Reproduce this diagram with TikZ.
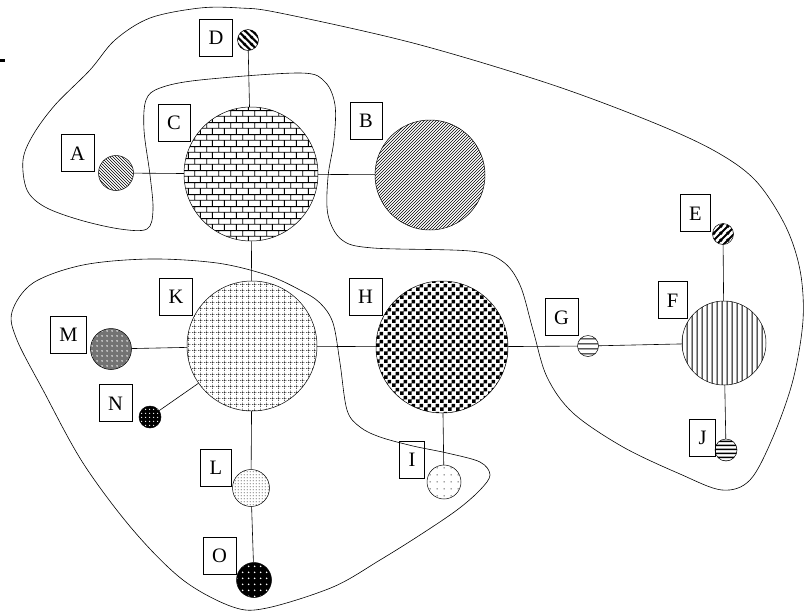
\documentclass[tikz,border=0pt]{standalone}
\usepackage{fontspec}
\setmainfont{Liberation Serif}
\usetikzlibrary{patterns}

\pgfdeclarepatternformonly{thickNW}{\pgfqpoint{0pt}{0pt}}{\pgfqpoint{7pt}{7pt}}{\pgfqpoint{7pt}{7pt}}{%
  \pgfsetlinewidth{2.2pt}%
  \pgfpathmoveto{\pgfqpoint{-1pt}{8pt}}\pgfpathlineto{\pgfqpoint{8pt}{-1pt}}%
  \pgfpathmoveto{\pgfqpoint{-1pt}{1pt}}\pgfpathlineto{\pgfqpoint{1pt}{-1pt}}%
  \pgfpathmoveto{\pgfqpoint{6pt}{8pt}}\pgfpathlineto{\pgfqpoint{8pt}{6pt}}%
  \pgfusepath{stroke}}
\pgfdeclarepatternformonly{thickNE}{\pgfqpoint{0pt}{0pt}}{\pgfqpoint{7pt}{7pt}}{\pgfqpoint{7pt}{7pt}}{%
  \pgfsetlinewidth{2.2pt}%
  \pgfpathmoveto{\pgfqpoint{-1pt}{-1pt}}\pgfpathlineto{\pgfqpoint{8pt}{8pt}}%
  \pgfpathmoveto{\pgfqpoint{6pt}{-1pt}}\pgfpathlineto{\pgfqpoint{8pt}{1pt}}%
  \pgfpathmoveto{\pgfqpoint{-1pt}{6pt}}\pgfpathlineto{\pgfqpoint{1pt}{8pt}}%
  \pgfusepath{stroke}}
\pgfdeclarepatternformonly{vlinesF}{\pgfqpoint{0pt}{0pt}}{\pgfqpoint{5pt}{5pt}}{\pgfqpoint{5pt}{5pt}}{%
  \pgfsetlinewidth{1pt}%
  \pgfpathmoveto{\pgfqpoint{2.5pt}{-1pt}}\pgfpathlineto{\pgfqpoint{2.5pt}{6pt}}%
  \pgfusepath{stroke}}
\pgfdeclarepatternformonly{hlinesG}{\pgfqpoint{0pt}{0pt}}{\pgfqpoint{5pt}{5pt}}{\pgfqpoint{5pt}{5pt}}{%
  \pgfsetlinewidth{1.3pt}%
  \pgfpathmoveto{\pgfqpoint{-1pt}{2.5pt}}\pgfpathlineto{\pgfqpoint{6pt}{2.5pt}}%
  \pgfusepath{stroke}}
\pgfdeclarepatternformonly{hlinesJ}{\pgfqpoint{0pt}{0pt}}{\pgfqpoint{4pt}{4pt}}{\pgfqpoint{4pt}{4pt}}{%
  \pgfsetlinewidth{1.8pt}%
  \pgfpathmoveto{\pgfqpoint{-1pt}{2pt}}\pgfpathlineto{\pgfqpoint{5pt}{2pt}}%
  \pgfusepath{stroke}}
\pgfdeclarepatternformonly{bricksC}{\pgfqpoint{0pt}{0pt}}{\pgfqpoint{12pt}{12pt}}{\pgfqpoint{12pt}{12pt}}{%
  \pgfsetlinewidth{0.9pt}%
  \pgfpathmoveto{\pgfqpoint{-1pt}{3pt}}\pgfpathlineto{\pgfqpoint{13pt}{3pt}}%
  \pgfpathmoveto{\pgfqpoint{-1pt}{9pt}}\pgfpathlineto{\pgfqpoint{13pt}{9pt}}%
  \pgfpathmoveto{\pgfqpoint{3pt}{3pt}}\pgfpathlineto{\pgfqpoint{3pt}{9pt}}%
  \pgfpathmoveto{\pgfqpoint{9pt}{9pt}}\pgfpathlineto{\pgfqpoint{9pt}{13pt}}%
  \pgfpathmoveto{\pgfqpoint{9pt}{-1pt}}\pgfpathlineto{\pgfqpoint{9pt}{3pt}}%
  \pgfusepath{stroke}}
\pgfdeclarepatternformonly{checkH}{\pgfqpoint{0pt}{0pt}}{\pgfqpoint{8pt}{8pt}}{\pgfqpoint{8pt}{8pt}}{%
  \pgfpathrectangle{\pgfpointorigin}{\pgfqpoint{4pt}{4pt}}%
  \pgfpathrectangle{\pgfqpoint{4pt}{4pt}}{\pgfqpoint{4pt}{4pt}}%
  \pgfusepath{fill}}
\pgfdeclarepatternformonly{gridK}{\pgfqpoint{0pt}{0pt}}{\pgfqpoint{6pt}{6pt}}{\pgfqpoint{6pt}{6pt}}{%
  \pgfsetlinewidth{0.6pt}%
  \pgfsetdash{{1pt}{1pt}}{0pt}%
  \pgfpathmoveto{\pgfqpoint{3pt}{0pt}}\pgfpathlineto{\pgfqpoint{3pt}{6pt}}%
  \pgfpathmoveto{\pgfqpoint{0pt}{3pt}}\pgfpathlineto{\pgfqpoint{6pt}{3pt}}%
  \pgfusepath{stroke}}
\pgfdeclarepatternformonly{dotsM}{\pgfqpoint{0pt}{0pt}}{\pgfqpoint{4.5pt}{4.5pt}}{\pgfqpoint{4.5pt}{4.5pt}}{%
  \pgfpathcircle{\pgfqpoint{2.25pt}{2.25pt}}{0.9pt}\pgfusepath{fill}}
\pgfdeclarepatternformonly{dotsN}{\pgfqpoint{0pt}{0pt}}{\pgfqpoint{4pt}{4pt}}{\pgfqpoint{4pt}{4pt}}{%
  \pgfpathcircle{\pgfqpoint{2pt}{2pt}}{0.8pt}\pgfusepath{fill}}
\pgfdeclarepatternformonly{dotsO}{\pgfqpoint{0pt}{0pt}}{\pgfqpoint{6pt}{6pt}}{\pgfqpoint{6pt}{6pt}}{%
  \pgfpathcircle{\pgfqpoint{3pt}{3pt}}{1pt}\pgfusepath{fill}}
\pgfdeclarepatternformonly{dotsL}{\pgfqpoint{0pt}{0pt}}{\pgfqpoint{3pt}{3pt}}{\pgfqpoint{3pt}{3pt}}{%
  \pgfpathcircle{\pgfqpoint{1.5pt}{1.5pt}}{0.6pt}\pgfusepath{fill}}
\pgfdeclarepatternformonly{dotsI}{\pgfqpoint{0pt}{0pt}}{\pgfqpoint{7pt}{7pt}}{\pgfqpoint{7pt}{7pt}}{%
  \pgfpathcircle{\pgfqpoint{3.5pt}{3.5pt}}{0.6pt}\pgfusepath{fill}}

\tikzset{
  lbl/.style={draw, line width=0.6pt, font=\fontsize{20.5}{24}\selectfont,
    inner xsep=9pt, inner ysep=0pt, minimum height=37pt, text height=14pt, text depth=0pt},
  ball/.style={circle, draw, line width=0.5pt, inner sep=0pt},
  link/.style={line width=0.6pt},
  blob/.style={line width=0.6pt}
}

\begin{document}
\begin{tikzpicture}[x=1pt, y=-1pt]
\useasboundingbox (0,0) rectangle (812,611);

% small mark at the left edge
\fill (0,58.5) rectangle (5,62);

% upper region
\draw[blob] plot[smooth cycle, tension=0.55] coordinates {
 (280,13) (413,43) (547,83) (647,120) (713,150) (755,180) (785,225) (800,270)
 (803,320) (793,380) (773,437) (750,480) (722,490) (680,474) (623,447)
 (573,413) (547,377) (533,330) (520,285) (502,261) (470,251) (373,248)
 (342,240) (328,215) (328,177) (334,140) (335,105) (325,82) (300,73)
 (200,80) (160,88) (146,100) (144,130) (150,175) (153,210) (147,229)
 (120,229) (80,220) (45,207) (27,190) (23,160) (33,135) (55,105) (90,70)
 (115,40) (150,18) (200,8) (240,8)};

% lower region
\draw[blob] plot[smooth cycle, tension=0.55] coordinates {
 (150,259) (217,263) (267,275) (300,290) (320,303) (333,323) (340,363)
 (347,410) (360,427) (380,437) (413,446) (447,453) (480,462) (490,475)
 (480,490) (457,510) (420,535) (380,560) (333,587) (267,608) (233,607)
 (183,580) (133,530) (83,463) (43,390) (17,340) (12,312) (33,283) (83,265)};

% circles
\node[ball, minimum size=35pt, pattern=north west lines] (A) at (116,173) {};
\node[ball, minimum size=21pt, pattern=thickNW] (D) at (248,40) {};
\node[ball, minimum size=134pt, pattern=bricksC] (C) at (251,174) {};
\node[ball, minimum size=110pt, pattern=north east lines] (B) at (430,175) {};
\node[ball, minimum size=21pt, pattern=thickNE] (E) at (723,234) {};
\node[ball, minimum size=84pt, pattern=vlinesF] (F) at (724,343) {};
\node[ball, minimum size=21pt, pattern=hlinesG] (G) at (588,346) {};
\node[ball, minimum size=22pt, pattern=hlinesJ] (J) at (726,450) {};
\node[ball, minimum size=132pt, pattern=checkH] (H) at (442,347) {};
\node[ball, minimum size=130pt, pattern=gridK, pattern color=black] (K) at (252,346) {};
\node[ball, minimum size=41pt, preaction={fill=black!55}, pattern=dotsM, pattern color=white] (M) at (111,349) {};
\node[ball, minimum size=22pt, preaction={fill=black}, pattern=dotsN, pattern color=white] (N) at (150,417) {};
\node[ball, minimum size=37pt, pattern=dotsL] (L) at (251,488) {};
\node[ball, minimum size=35pt, preaction={fill=black}, pattern=dotsO, pattern color=white] (O) at (254,580) {};
\node[ball, minimum size=34pt, pattern=dotsI] (I) at (444,482) {};

% connectors
\draw[link] (A) -- (C);
\draw[link] (C) -- (B);
\draw[link] (D) -- (C);
\draw[link] (C) -- (K);
\draw[link] (M) -- (K);
\draw[link] (N) -- (K);
\draw[link] (K) -- (H);
\draw[link] (K) -- (L);
\draw[link] (L) -- (O);
\draw[link] (H) -- (I);
\draw[link] (H) -- (G);
\draw[link] (G) -- (F);
\draw[link] (E) -- (F);
\draw[link] (F) -- (J);

% labels
\node[lbl] (lA) at (77.5,153) {A};
\node[lbl] (lD) at (216,37.5) {D};
\node[lbl] (lC) at (174,122.5) {C};
\node[lbl] (lB) at (366,120.5) {B};
\node[lbl] (lE) at (695.5,213) {E};
\node[lbl] (lF) at (672.5,300) {F};
\node[lbl] (lG) at (561.5,317) {G};
\node[lbl] (lJ) at (702.5,437.5) {J};
\node[lbl] (lH) at (365.5,296.5) {H};
\node[lbl] (lK) at (176,296.5) {K};
\node[lbl] (lM) at (68.5,334.5) {M};
\node[lbl] (lN) at (115.5,403) {N};
\node[lbl] (lL) at (216,467.5) {L};
\node[lbl] (lO) at (219.5,555.5) {O};
\node[lbl] (lI) at (412,459.5) {I};
\end{tikzpicture}
\end{document}
